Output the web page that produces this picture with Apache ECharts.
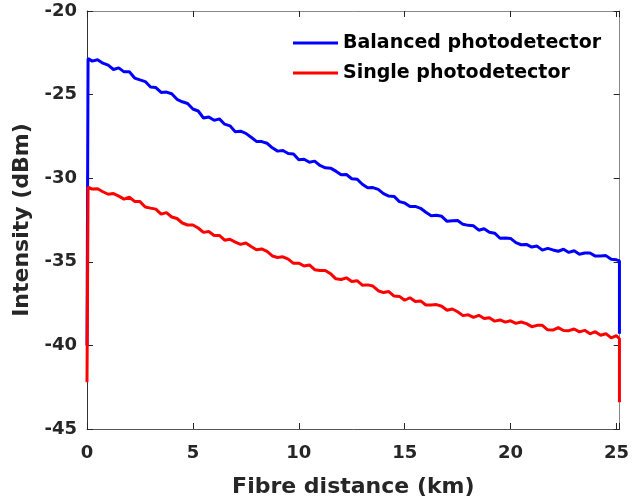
<!DOCTYPE html>
<html>
<head>
<meta charset="utf-8">
<script src="https://cdn.jsdelivr.net/npm/echarts@6/dist/echarts.min.js"></script>
<style>
html,body{margin:0;padding:0;background:#fff;}
#chart{width:632px;height:504px;}
</style>
</head>
<body>
<div id="chart"></div>
<script>
const seriesNames = ['Balanced photodetector', 'Single photodetector'];
const xTicks = [0, 5, 10, 15, 20, 25];
const yTicks = [-45, -40, -35, -30, -25, -20];

const distanceKm = [
  0, 0.05, 0.25, 0.5, 0.75, 1, 1.25, 1.5, 1.75, 2, 2.25, 2.5, 2.75, 3, 3.25, 3.5, 3.75, 4, 4.25, 4.5, 4.75,
  5, 5.25, 5.5, 5.75, 6, 6.25, 6.5, 6.75, 7, 7.25, 7.5, 7.75, 8, 8.25, 8.5, 8.75, 9, 9.25, 9.5, 9.75,
  10, 10.25, 10.5, 10.75, 11, 11.25, 11.5, 11.75, 12, 12.25, 12.5, 12.75, 13, 13.25, 13.5, 13.75, 14, 14.25, 14.5, 14.75,
  15, 15.25, 15.5, 15.75, 16, 16.25, 16.5, 16.75, 17, 17.25, 17.5, 17.75, 18, 18.25, 18.5, 18.75, 19, 19.25, 19.5, 19.75,
  20, 20.25, 20.5, 20.75, 21, 21.25, 21.5, 21.75, 22, 22.25, 22.5, 22.75, 23, 23.25, 23.5, 23.75, 24, 24.25, 24.5, 24.75,
  25, 25.14, 25.14
];

const balancedDbm = [
  -40.0, -22.85, -23.0, -22.92, -23.12, -23.24, -23.5, -23.4, -23.64, -23.63, -24.01, -24.12, -24.22, -24.55, -24.58, -24.87, -24.85, -24.95, -25.28, -25.43, -25.53,
  -25.86, -25.98, -26.4, -26.34, -26.54, -26.45, -26.77, -26.87, -27.22, -27.19, -27.32, -27.55, -27.8, -27.81, -27.91, -28.18, -28.38, -28.34, -28.52, -28.55,
  -28.9, -28.87, -29.05, -28.98, -29.24, -29.38, -29.4, -29.58, -29.8, -29.78, -30.03, -30.06, -30.36, -30.57, -30.56, -30.67, -30.92, -31.07, -31.09, -31.4,
  -31.48, -31.69, -31.69, -31.8, -32.04, -32.25, -32.22, -32.28, -32.58, -32.54, -32.53, -32.76, -32.82, -32.85, -33.11, -33.02, -33.23, -33.29, -33.59, -33.58,
  -33.6, -33.85, -33.98, -33.96, -34.12, -34.06, -34.3, -34.2, -34.29, -34.37, -34.25, -34.44, -34.34, -34.55, -34.47, -34.47, -34.66, -34.66, -34.63, -34.85,
  -34.88, -34.95, -39.3
];

const singleDbm = [
  -42.2, -30.53, -30.65, -30.63, -30.81, -30.96, -30.92, -31.07, -31.25, -31.14, -31.39, -31.4, -31.72, -31.79, -31.85, -32.15, -32.06, -32.32, -32.41, -32.68, -32.8,
  -32.8, -32.98, -33.24, -33.19, -33.43, -33.42, -33.71, -33.65, -33.82, -33.96, -33.88, -34.09, -34.28, -34.23, -34.37, -34.65, -34.74, -34.7, -34.84, -35.09,
  -35.08, -35.25, -35.19, -35.47, -35.52, -35.52, -35.71, -36.02, -36.06, -35.96, -36.18, -36.13, -36.4, -36.38, -36.45, -36.73, -36.84, -36.78, -37.05, -37.07,
  -37.3, -37.15, -37.37, -37.34, -37.58, -37.58, -37.56, -37.66, -37.9, -37.82, -37.99, -38.22, -38.17, -38.32, -38.2, -38.39, -38.34, -38.55, -38.48, -38.61,
  -38.53, -38.68, -38.6, -38.7, -38.88, -38.8, -38.8, -39.07, -39.08, -38.94, -39.11, -39.12, -39.02, -39.19, -39.1, -39.31, -39.18, -39.39, -39.3, -39.55,
  -39.42, -39.6, -43.4
];

const toPairs = (xs, ys) => xs.map((x, i) => [x, ys[i]]);

const FONT = '"DejaVu Sans", "Liberation Sans", Arial, sans-serif';
const xMin = xTicks[0], xMax = 25.15;
const yMin = yTicks[0], yMax = yTicks[yTicks.length - 1];

const chart = echarts.init(document.getElementById('chart'), null, {renderer: 'canvas'});
chart.setOption({
  animation: false,
  backgroundColor: '#ffffff',
  grid: {left: 87, top: 11, right: 10, bottom: 75, containLabel: false},
  legend: {
    data: seriesNames,
    orient: 'vertical',
    left: 293,
    top: 33,
    itemWidth: 45,
    itemHeight: 3,
    itemGap: 10,
    icon: 'rect',
    textStyle: {fontFamily: FONT, fontWeight: 'bold', fontSize: 19, lineHeight: 20, color: '#000'},
    padding: 0
  },
  xAxis: [{
    type: 'value', min: xMin, max: xMax, interval: 5, position: 'bottom',
    name: 'Fibre distance (km)', nameLocation: 'middle', nameGap: 47,
    nameTextStyle: {fontFamily: FONT, fontWeight: 'bold', fontSize: 22, color: '#262626'},
    axisLine: {show: true, onZero: false, lineStyle: {color: '#555', width: 1}},
    axisTick: {show: true, inside: true, length: 6, lineStyle: {color: '#262626'}},
    axisLabel: {fontFamily: FONT, fontWeight: 'bold', fontSize: 18, color: '#262626', margin: 15,
      formatter: v => (xTicks.indexOf(v) >= 0 ? String(v) : '')},
    splitLine: {show: false}
  }, {
    type: 'value', min: xMin, max: xMax, interval: 5, position: 'top',
    axisLine: {show: true, onZero: false, lineStyle: {color: '#888', width: 1}},
    axisTick: {show: true, inside: true, length: 6, lineStyle: {color: '#262626'}},
    axisLabel: {show: false}, splitLine: {show: false}
  }],
  yAxis: [{
    type: 'value', min: yMin, max: yMax, interval: 5, position: 'left',
    name: 'Intensity (dBm)', nameLocation: 'middle', nameGap: 49, nameRotate: 90,
    nameTextStyle: {fontFamily: FONT, fontWeight: 'bold', fontSize: 22, color: '#262626'},
    axisLine: {show: true, onZero: false, lineStyle: {color: '#333', width: 1}},
    axisTick: {show: true, inside: true, length: 6, lineStyle: {color: '#262626'}},
    axisLabel: {fontFamily: FONT, fontWeight: 'bold', fontSize: 18, color: '#262626', margin: 10},
    splitLine: {show: false}
  }, {
    type: 'value', min: yMin, max: yMax, interval: 5, position: 'right',
    axisLine: {show: true, onZero: false, lineStyle: {color: '#888', width: 1}},
    axisTick: {show: true, inside: true, length: 6, lineStyle: {color: '#262626'}},
    axisLabel: {show: false}, splitLine: {show: false}
  }],
  series: [{
    name: seriesNames[0], type: 'line', xAxisIndex: 0, yAxisIndex: 0,
    data: toPairs(distanceKm, balancedDbm),
    showSymbol: false, symbol: 'none',
    lineStyle: {color: '#0000ff', width: 3}, itemStyle: {color: '#0000ff'}
  }, {
    name: seriesNames[1], type: 'line', xAxisIndex: 0, yAxisIndex: 0,
    data: toPairs(distanceKm, singleDbm),
    showSymbol: false, symbol: 'none',
    lineStyle: {color: '#ff0000', width: 3}, itemStyle: {color: '#ff0000'}
  }]
});
</script>
</body>
</html>
